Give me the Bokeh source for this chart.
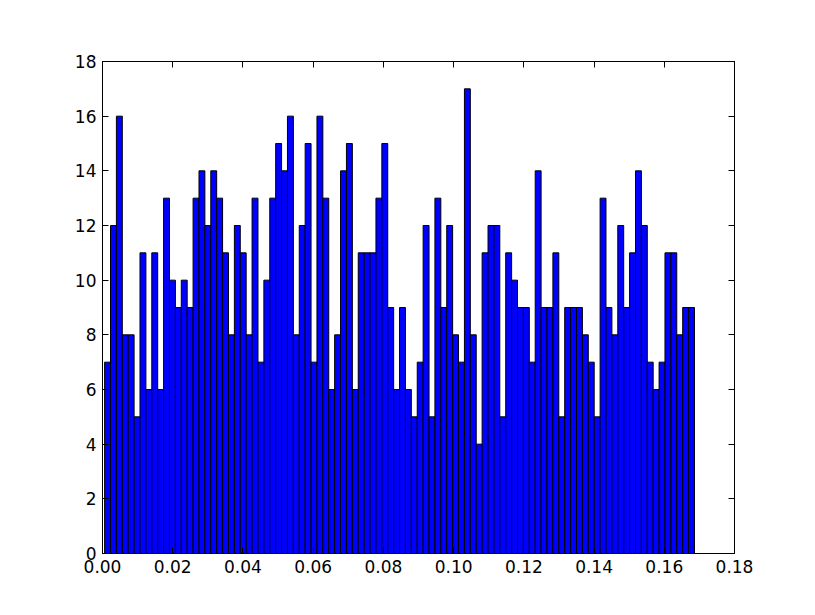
import numpy as np
from bokeh.plotting import figure
from bokeh.models import LinearAxis, FixedTicker, PrintfTickFormatter, Range1d, ColumnDataSource
from bokeh.embed import file_html
from bokeh.resources import INLINE

# Histogram counts (100 bins)
counts = [7, 12, 16, 8, 8, 5, 11, 6, 11, 6,
          13, 10, 9, 10, 9, 13, 14, 12, 14, 13,
          11, 8, 12, 11, 8, 13, 7, 10, 13, 15,
          14, 16, 8, 12, 15, 7, 16, 13, 6, 8,
          14, 15, 6, 11, 11, 11, 13, 15, 9, 6,
          9, 6, 5, 7, 12, 5, 13, 9, 12, 8,
          7, 17, 8, 4, 11, 12, 12, 5, 11, 10,
          9, 9, 7, 14, 9, 9, 11, 5, 9, 9,
          9, 8, 7, 5, 13, 9, 8, 12, 9, 11,
          14, 12, 7, 6, 7, 11, 11, 8, 9, 9]
data_min = 0.0006
data_max = 0.1686
x_ticks = [0.00, 0.02, 0.04, 0.06, 0.08, 0.10, 0.12, 0.14, 0.16, 0.18]
y_ticks = [0, 2, 4, 6, 8, 10, 12, 14, 16, 18]

edges = np.linspace(data_min, data_max, len(counts) + 1)
src = ColumnDataSource(dict(left=edges[:-1], right=edges[1:],
                            top=counts, bottom=[0] * len(counts)))

W, H = 798, 598
p = figure(width=W, height=H, output_backend="svg", toolbar_location=None,
           x_range=Range1d(0, 0.18), y_range=Range1d(0, 18),
           x_axis_location=None, y_axis_location=None,
           min_border_left=102, min_border_right=W - 734,
           min_border_top=61, min_border_bottom=H - 553)
p.grid.visible = False
p.outline_line_color = "black"
p.outline_line_width = 1
p.background_fill_color = "white"
p.border_fill_color = "white"

p.quad(left="left", right="right", top="top", bottom="bottom", source=src,
       fill_color="#0000ff", line_color="black", line_width=1)

font = "DejaVu Sans"
fs = "17px"

def make_axis(ticks, fmt, show_labels, standoff):
    ax = LinearAxis(ticker=FixedTicker(ticks=ticks))
    if fmt:
        ax.formatter = PrintfTickFormatter(format=fmt)
    ax.axis_line_color = "black"
    ax.major_tick_line_color = "black"
    ax.major_tick_in = 6
    ax.major_tick_out = 0
    ax.minor_tick_line_color = None
    ax.major_label_standoff = standoff
    ax.major_label_text_font = font
    ax.major_label_text_color = "black"
    if show_labels:
        ax.major_label_text_font_size = fs
    else:
        ax.major_label_text_font_size = "0px"
        ax.major_label_text_alpha = 0
    return ax

p.add_layout(make_axis(x_ticks, "%.2f", True, 6), "below")
p.add_layout(make_axis(y_ticks, "%d", True, 6), "left")
p.add_layout(make_axis(x_ticks, "%.2f", False, 0), "above")
p.add_layout(make_axis(y_ticks, "%d", False, 0), "right")

open("out.html", "w").write(file_html(p, INLINE))
